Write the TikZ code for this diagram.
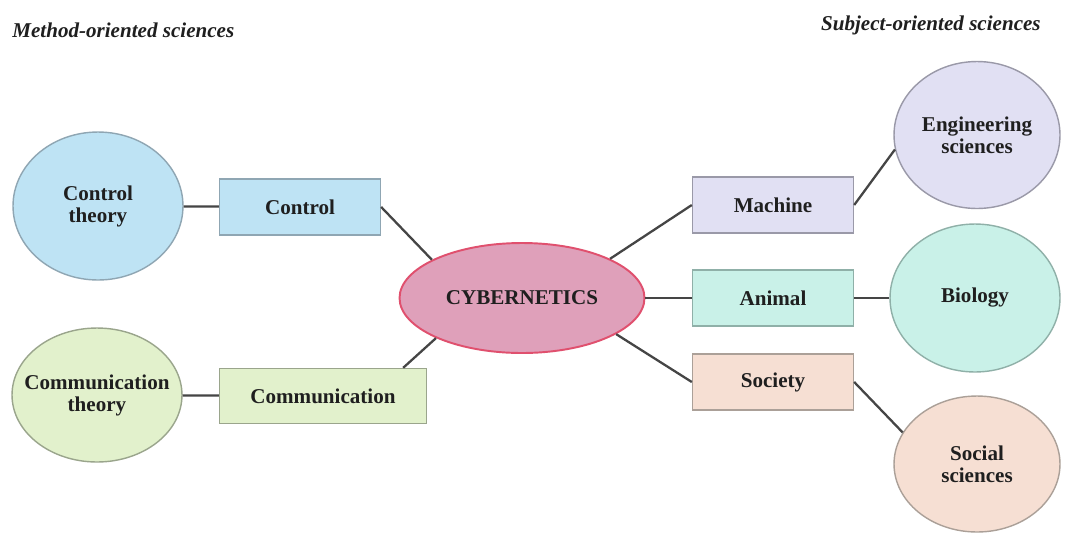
\documentclass[tikz,border=0pt]{standalone}
\usepackage{fontspec}
\setmainfont{Liberation Serif}
\usepackage{tikz}
\usepackage{xcolor}
\definecolor{ctrlfill}{HTML}{BEE3F4}
\definecolor{ctrlline}{HTML}{8FA6B3}
\definecolor{commfill}{HTML}{E2F1CC}
\definecolor{commline}{HTML}{9AA58C}
\definecolor{cybfill}{HTML}{DFA0BA}
\definecolor{cybline}{HTML}{E0506E}
\definecolor{machfill}{HTML}{E1E0F3}
\definecolor{machline}{HTML}{9A99A8}
\definecolor{animfill}{HTML}{C9F1E8}
\definecolor{animline}{HTML}{8FB0A8}
\definecolor{socfill}{HTML}{F6DFD3}
\definecolor{socline}{HTML}{ABA098}
\definecolor{linkgray}{HTML}{454545}
\usetikzlibrary{shapes.geometric}

\begin{document}
\begin{tikzpicture}[x=0.02cm, y=-0.02cm,
    every node/.style={font=\fontsize{12}{12.5}\selectfont\bfseries, text=black!88, align=center},
    heading/.style={inner sep=0pt, font=\fontsize{12}{12.5}\selectfont\bfseries\itshape},
    field/.style={ellipse, inner sep=0pt, line width=0.8pt, minimum width=3.4cm, minimum height=2.96cm},
    topic/.style={rectangle, inner sep=0pt, line width=0.8pt, minimum width=3.22cm, minimum height=1.12cm},
    link/.style={draw=linkgray, line width=1.3pt}]

    \useasboundingbox[fill=white] (0,0) rectangle (1078,535);

    % headings
    \node[heading, anchor=west] (mhead) at (12,30) {Method-oriented sciences};
    \node[heading, anchor=east] (shead) at (1041,25) {Subject-oriented sciences};

    % method side
    \node[field, fill=ctrlfill, draw=ctrlline] (ctheory) at (98,206) {Control\\theory};
    \node[topic, fill=ctrlfill, draw=ctrlline] (ctrl) at (300,207) {Control};
    \node[field, fill=commfill, draw=commline, inner xsep=-0.7cm, minimum height=2.68cm] (mtheory) at (97,395) {Communication\\theory};
    \node[topic, fill=commfill, draw=commline, minimum width=4.14cm, minimum height=1.1cm] (comm) at (323,396) {Communication};

    % centre
    \node[ellipse, inner sep=0pt, fill=cybfill, draw=cybline, line width=1.1pt,
          minimum width=4.9cm, minimum height=2.2cm] (cyb) at (522,298) {CYBERNETICS};

    % subject side
    \node[topic, fill=machfill, draw=machline] (mach) at (773,205) {Machine};
    \node[topic, fill=animfill, draw=animline] (anim) at (773,298) {Animal};
    \node[topic, fill=socfill, draw=socline] (soc) at (773,382) {Society};
    \node[field, fill=machfill, draw=machline, minimum width=3.32cm, minimum height=2.94cm] (eng) at (977,135) {Engineering\\sciences};
    \node[field, fill=animfill, draw=animline] (bio) at (975,298) {Biology};
    \node[field, fill=socfill, draw=socline, minimum width=3.32cm, minimum height=2.72cm] (ssci) at (977,464) {Social\\sciences};

    \draw[link] (ctheory) -- (ctrl);
    \draw[link] (ctrl.east) -- (cyb.157);
    \draw[link] (mtheory) -- (comm);
    \draw[link] ([xshift=-0.48cm]comm.north east) -- (cyb.205);
    \draw[link] (cyb.24) -- (mach.west);
    \draw[link] (cyb) -- (anim);
    \draw[link] (cyb.-21) -- (soc.west);
    \draw[link] (mach.east) -- (eng.190);
    \draw[link] (anim) -- (bio);
    \draw[link] (soc.east) -- (ssci.157);

\end{tikzpicture}
\end{document}
